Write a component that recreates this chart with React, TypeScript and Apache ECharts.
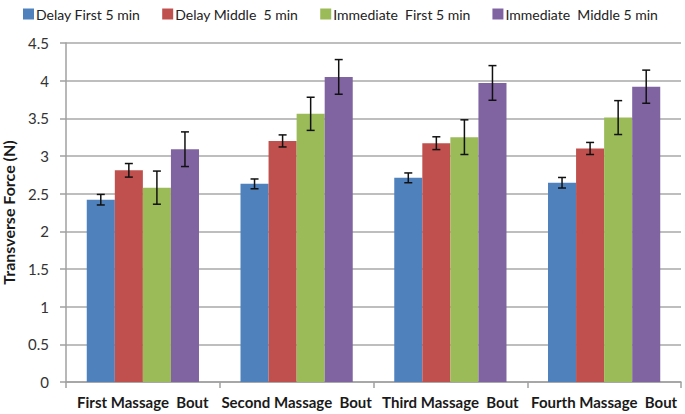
import React, { useEffect, useRef } from "react";
import * as echarts from "echarts";

const categories = ["First Massage  Bout", "Second Massage  Bout", "Third Massage  Bout", "Fourth Massage  Bout"];
const seriesNames = ["Delay First 5 min", "Delay Middle  5 min", "Immediate  First 5 min", "Immediate  Middle 5 min"];
const colors = ["#4F81BD", "#C0504D", "#9BBB59", "#8064A2"];
const delayFirst = [2.42, 2.63, 2.71, 2.645];
const delayMiddle = [2.81, 3.2, 3.17, 3.1];
const immediateFirst = [2.58, 3.56, 3.25, 3.51];
const immediateMiddle = [3.09, 4.05, 3.97, 3.92];
const errDelayFirst = [0.07, 0.065, 0.065, 0.07];
const errDelayMiddle = [0.09, 0.08, 0.085, 0.08];
const errImmediateFirst = [0.22, 0.22, 0.23, 0.225];
const errImmediateMiddle = [0.23, 0.23, 0.23, 0.22];
const yTicks = { min: 0, max: 4.5, interval: 0.5 };

const values = [delayFirst, delayMiddle, immediateFirst, immediateMiddle];
const errors = [errDelayFirst, errDelayMiddle, errImmediateFirst, errImmediateMiddle];

const CAT_GAP = 0.27;

export default function App() {
  const ref = useRef<HTMLDivElement>(null);
  useEffect(() => {
    document.body.style.margin = "0";
    if (!ref.current) return;
    const chart = echarts.init(ref.current, null, { renderer: "svg" });
    const errData: number[][] = [];
    values.forEach((vals, s) => {
      vals.forEach((v, c) => {
        errData.push([c, s, v - errors[s][c], v + errors[s][c]]);
      });
    });
    const font = "Lato, 'Open Sans', sans-serif";
    chart.setOption({
      animation: false,
      backgroundColor: "#ffffff",
      textStyle: { fontFamily: font },
      legend: {
        left: 18,
        top: 2,
        itemWidth: 11,
        itemHeight: 11,
        itemGap: 22,
        icon: "rect",
        textStyle: { fontSize: 14, color: "#222", fontFamily: font, padding: [0, 0, 0, -3] },
        data: seriesNames,
      },
      grid: { left: 66, right: 4, top: 43, bottom: 32, containLabel: false, outerBoundsMode: "none" },
      xAxis: {
        type: "category",
        data: categories,
        axisLine: { show: true, lineStyle: { color: "#a0a0a0", width: 1.5 } },
        axisTick: { show: true, alignWithLabel: false, length: 6, lineStyle: { color: "#a0a0a0", width: 1.5 } },
        axisLabel: { fontSize: 15, fontWeight: "bold", color: "#1a1a1a", margin: 12, fontFamily: font, interval: 0 },
      },
      yAxis: {
        type: "value",
        min: yTicks.min,
        max: yTicks.max,
        interval: yTicks.interval,
        name: "Transverse Force (N)",
        nameLocation: "middle",
        nameGap: 50,
        nameTextStyle: { fontSize: 16, fontWeight: "bold", color: "#1a1a1a", fontFamily: font },
        axisLine: { show: true, lineStyle: { color: "#a0a0a0", width: 1.5 } },
        axisTick: { show: true, length: 6, lineStyle: { color: "#a0a0a0", width: 1.5 } },
        axisLabel: { fontSize: 15, color: "#333", margin: 17, fontFamily: font },
        splitLine: { show: true, lineStyle: { color: "#a8a8a8", width: 1.5 } },
      },
      series: [
        ...values.map((vals, i) => ({
          type: "bar",
          name: seriesNames[i],
          data: vals,
          itemStyle: { color: colors[i] },
          barGap: "0%",
          barCategoryGap: CAT_GAP * 100 + "%",
          z: 2,
        })),
        {
          type: "custom",
          name: "errors",
          data: errData,
          z: 10,
          encode: { x: 0, y: [2, 3] },
          renderItem: (params: any, api: any) => {
            const c = api.value(0);
            const s = api.value(1);
            const lo = api.value(2);
            const hi = api.value(3);
            const band = api.size([1, 0])[0];
            const group = band * (1 - CAT_GAP);
            const bw = group / 4;
            const center = api.coord([c, 0])[0];
            const x = center - group / 2 + bw * (s + 0.5);
            const yHi = api.coord([c, hi])[1];
            const yLo = api.coord([c, lo])[1];
            const cap = 4;
            const st = { stroke: "#111", lineWidth: 1.5 };
            return {
              type: "group",
              children: [
                { type: "line", shape: { x1: x, y1: yHi, x2: x, y2: yLo }, style: st },
                { type: "line", shape: { x1: x - cap, y1: yHi, x2: x + cap, y2: yHi }, style: st },
                { type: "line", shape: { x1: x - cap, y1: yLo, x2: x + cap, y2: yLo }, style: st },
              ],
            };
          },
        },
      ],
    });
    return () => chart.dispose();
  }, []);
  return <div ref={ref} style={{ width: 685, height: 414 }} />;
}
